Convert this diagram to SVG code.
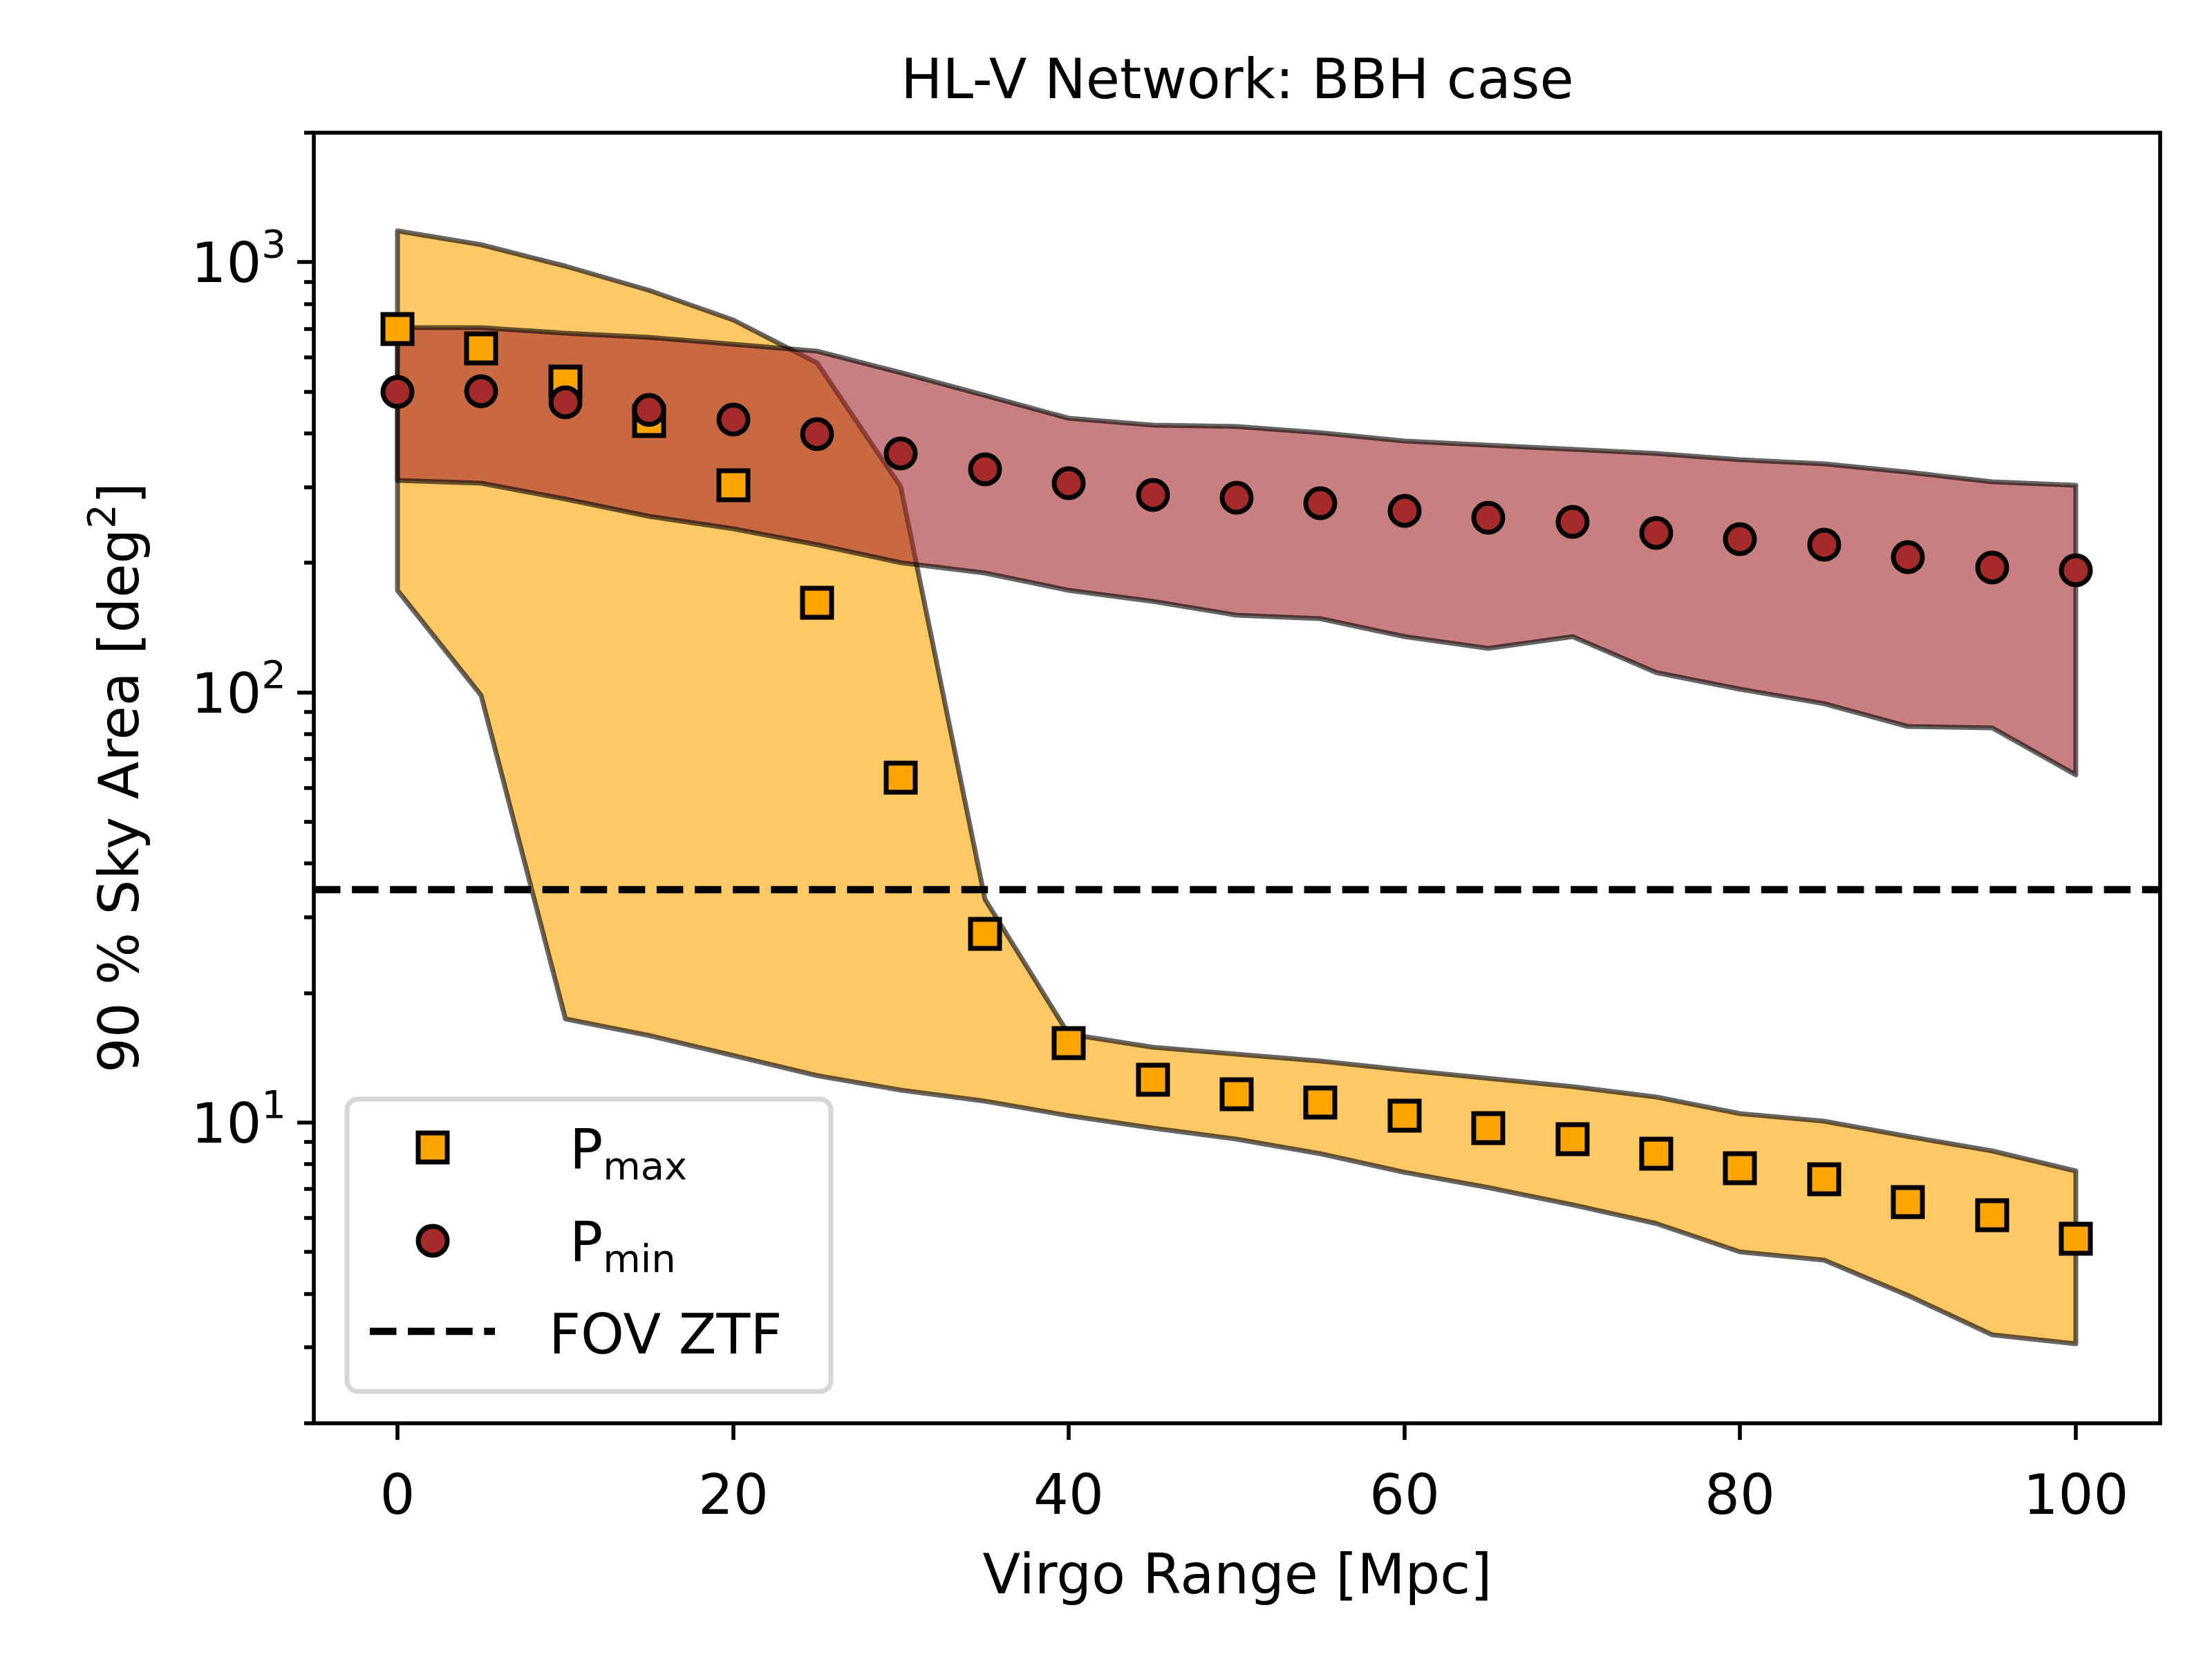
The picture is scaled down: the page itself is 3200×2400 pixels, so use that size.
<svg xmlns="http://www.w3.org/2000/svg" width="3200" height="2400" viewBox="0 0 3200 2400">
<style>
text{font-family:"DejaVu Sans",sans-serif;fill:#000}
.tk{font-size:80px}
.band{stroke:#000;stroke-opacity:0.6;stroke-width:7;stroke-linejoin:round}
.sq{fill:#ffa500;stroke:#000;stroke-width:7}
.ci{fill:#a52a2a;stroke:#000;stroke-width:7}
.ax{stroke:#000;stroke-width:5.6;fill:none}
</style>
<defs>
<rect id="s" x="-21" y="-21" width="42" height="42" class="sq"/>
<circle id="c" r="21" class="ci"/>
</defs>
<rect width="3200" height="2400" fill="#fff"/>
<g id="bands">
<polygon class="band" fill="#ffa500" fill-opacity="0.6" points="575,334 696,354 818,385 939,420 1061,463 1182,525 1303,704 1425,1301 1546,1496 1668,1515 1789,1525 1910,1535 2032,1548 2153,1560 2275,1572 2396,1587 2517,1611 2639,1622 2760,1644 2882,1665 3003,1694 3003,1944 2882,1931 2760,1874 2639,1823 2517,1811 2396,1770 2275,1743 2153,1718 2032,1696 1910,1669 1789,1648 1668,1632 1546,1614 1425,1593 1303,1577 1182,1556 1061,1527 939,1498 818,1474 696,1006 575,854"/>
<polygon class="band" fill="#a52a2a" fill-opacity="0.6" points="575,474 696,474 818,482 939,488 1061,498 1182,508 1303,539 1425,572 1546,605 1668,615 1789,617 1910,626 2032,638 2153,644 2275,650 2396,656 2517,665 2639,671 2760,683 2882,697 3003,702 3003,1121 2882,1053 2760,1051 2639,1018 2517,997 2396,973 2275,921 2153,938 2032,921 1910,895 1789,890 1668,870 1546,854 1425,829 1303,814 1182,788 1061,765 939,747 818,722 696,699 575,695"/>
</g>
<g id="connectors">
<line x1="454" y1="1287" x2="3125" y2="1287" stroke="#000" stroke-width="10.4" stroke-dasharray="38.5,16.6"/>
</g>
<g id="pmax">
<use href="#s" x="575" y="476"/><use href="#s" x="696" y="504"/><use href="#s" x="818" y="552"/><use href="#s" x="939" y="609"/><use href="#s" x="1061" y="702"/><use href="#s" x="1182" y="872"/><use href="#s" x="1303" y="1125"/><use href="#s" x="1425" y="1351"/><use href="#s" x="1546" y="1509"/><use href="#s" x="1668" y="1562"/><use href="#s" x="1789" y="1583"/><use href="#s" x="1910" y="1595"/><use href="#s" x="2032" y="1614"/><use href="#s" x="2153" y="1632"/><use href="#s" x="2275" y="1648"/><use href="#s" x="2396" y="1669"/><use href="#s" x="2517" y="1690"/><use href="#s" x="2639" y="1706"/><use href="#s" x="2760" y="1739"/><use href="#s" x="2882" y="1758"/><use href="#s" x="3003" y="1792"/>
</g>
<g id="pmin">
<use href="#c" x="575" y="567"/><use href="#c" x="696" y="566"/><use href="#c" x="818" y="582"/><use href="#c" x="939" y="593"/><use href="#c" x="1061" y="607"/><use href="#c" x="1182" y="628"/><use href="#c" x="1303" y="656"/><use href="#c" x="1425" y="679"/><use href="#c" x="1546" y="699"/><use href="#c" x="1668" y="716"/><use href="#c" x="1789" y="720"/><use href="#c" x="1910" y="728"/><use href="#c" x="2032" y="739"/><use href="#c" x="2153" y="749"/><use href="#c" x="2275" y="755"/><use href="#c" x="2396" y="771"/><use href="#c" x="2517" y="780"/><use href="#c" x="2639" y="788"/><use href="#c" x="2760" y="806"/><use href="#c" x="2882" y="821"/><use href="#c" x="3003" y="825"/>
</g>
<g id="axes">
<rect x="454" y="192" width="2671" height="1867" class="ax"/>
<path class="ax" d="M575,2059v24M1061,2059v24M1546,2059v24M2032,2059v24M2517,2059v24M3003,2059v24M454,379h-24M454,1002h-24M454,1624h-24"/>
<path class="ax" d="M454,2059h-14M454,1949h-14M454,1872h-14M454,1811h-14M454,1762h-14M454,1720h-14M454,1684h-14M454,1652h-14M454,1437h-14M454,1327h-14M454,1249h-14M454,1189h-14M454,1140h-14M454,1098h-14M454,1062h-14M454,1030h-14M454,814h-14M454,705h-14M454,627h-14M454,567h-14M454,517h-14M454,476h-14M454,440h-14M454,408h-14M454,192h-14"/>
<g class="tk" text-anchor="middle">
<text x="575" y="2190">0</text><text x="1061" y="2190">20</text><text x="1546" y="2190">40</text><text x="2032" y="2190">60</text><text x="2517" y="2190">80</text><text x="3003" y="2190">100</text>
</g>
<g class="tk" text-anchor="end">
<text x="414" y="408">10<tspan font-size="56" dy="-36">3</tspan></text>
<text x="414" y="1031">10<tspan font-size="56" dy="-36">2</tspan></text>
<text x="414" y="1653">10<tspan font-size="56" dy="-36">1</tspan></text>
</g>
<text x="1790" y="142" font-size="80" text-anchor="middle">HL-V Network: BBH case</text>
<text x="1790" y="2305" font-size="80" text-anchor="middle">Virgo Range [Mpc]</text>
<text transform="translate(200,1125) rotate(-90)" font-size="80" text-anchor="middle">90 % Sky Area [deg<tspan font-size="56" dy="-34">2</tspan><tspan dy="34">]</tspan></text>
</g>
<g id="legend">
<rect x="502" y="1590" width="700" height="423" rx="16" fill="#fff" fill-opacity="0.8" stroke="#d6d6d6" stroke-width="7"/>
<use href="#s" x="626" y="1660"/>
<use href="#c" x="626" y="1795"/>
<line x1="535" y1="1926" x2="716" y2="1926" stroke="#000" stroke-width="10.4" stroke-dasharray="38.5,16.6"/>
<text x="824" y="1691" font-size="80">P<tspan font-size="56" dy="15">max</tspan></text>
<text x="824" y="1825" font-size="80">P<tspan font-size="56" dy="15">min</tspan></text>
<text x="794" y="1958" font-size="80">FOV ZTF</text>
</g>
</svg>
